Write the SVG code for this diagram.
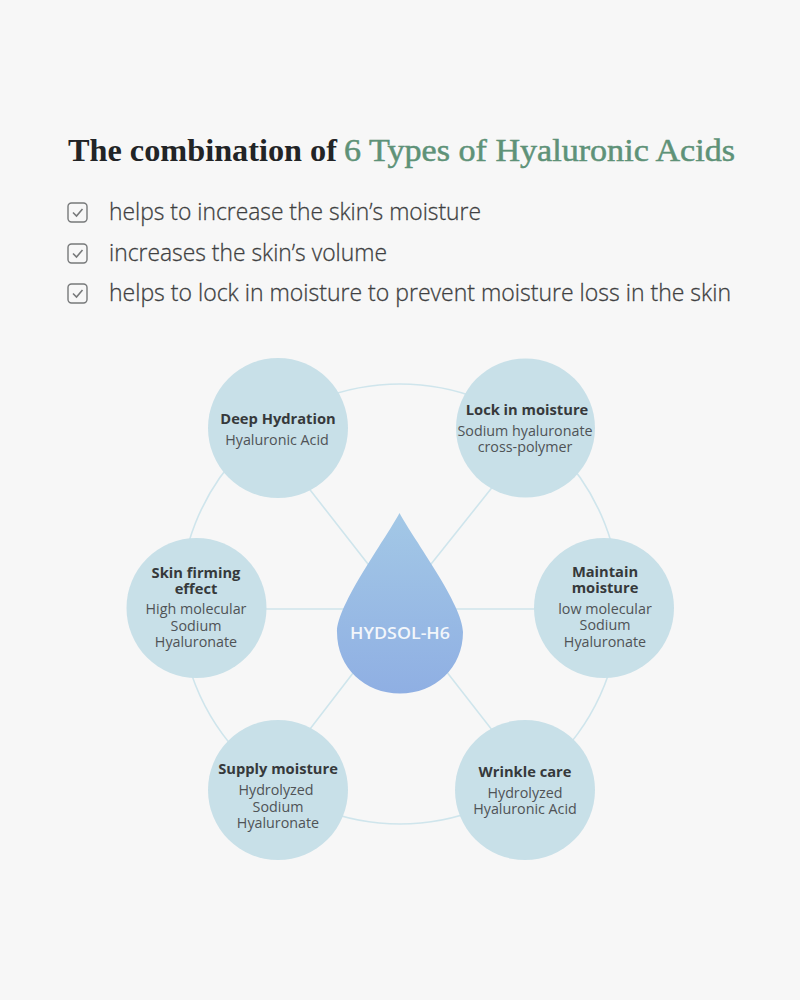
<svg xmlns="http://www.w3.org/2000/svg" width="800" height="1000" viewBox="0 0 800 1000">
<defs>
<linearGradient id="dropFill" x1="0" y1="0" x2="0" y2="1"><stop offset="0" stop-color="#a3c8e6"/><stop offset="1" stop-color="#8fafe3"/></linearGradient>
<g id="check"><rect x="1" y="1" width="19" height="19" rx="3.500" fill="none" stroke="#77797a" stroke-width="1.400"/><path d="M6 10.500l3.500 3.500 6-7" fill="none" stroke="#77797a" stroke-width="1.600"/></g>
</defs>
<style>
.title{font-family:"Liberation Serif",serif;font-size:31px}
.dark{font-weight:700;fill:#222426}
.green{font-weight:400;fill:#5e9278;stroke:#5e9278;stroke-width:.5}
.item{font-family:"Open Sans",sans-serif;font-size:23px;font-weight:300;fill:#3e3f41;stroke:#3e3f41;stroke-width:.3}
.node{fill:#c8e0e8}
.label{font-family:"Open Sans",sans-serif;text-anchor:middle}
.h{font-size:14.700px;font-weight:700;fill:#36393b}
.s{font-size:14.300px;font-weight:400;fill:#4f5356}
.link{fill:none;stroke:#cfe5ec;stroke-width:1.600}
</style>
<rect width="800" height="1000" fill="#f7f7f7"/>
<text class="title dark" x="68" y="161" textLength="269" lengthAdjust="spacingAndGlyphs">The combination of</text>
<text class="title green" x="344" y="161" textLength="391" lengthAdjust="spacingAndGlyphs">6 Types of Hyaluronic Acids</text>
<use href="#check" x="67" y="202"/><use href="#check" x="67" y="243"/><use href="#check" x="67" y="283"/>
<text class="item" x="109" y="220" textLength="372" lengthAdjust="spacingAndGlyphs">helps to increase the skin’s moisture</text>
<text class="item" x="109" y="261" textLength="278" lengthAdjust="spacingAndGlyphs">increases the skin’s volume</text>
<text class="item" x="109" y="301" textLength="622" lengthAdjust="spacingAndGlyphs">helps to lock in moisture to prevent moisture loss in the skin</text>
<g id="connectors">
<circle class="link" cx="400" cy="604" r="220"/>
<path class="link" d="M300 477L400 605M510 465L400 603M196 609H604M300 742L400 612M510 753L400 612"/>
</g>
<g id="node-deep"><circle class="node" cx="278" cy="428" r="70"/><text class="label"><tspan class="h" x="278" y="424">Deep Hydration</tspan><tspan class="s" x="277" y="445">Hyaluronic Acid</tspan></text></g>
<g id="node-lock"><circle class="node" cx="525.500" cy="428" r="69.500"/><text class="label"><tspan class="h" x="527" y="415">Lock in moisture</tspan><tspan class="s" x="525" y="436">Sodium hyaluronate</tspan><tspan class="s" x="525" y="452">cross-polymer</tspan></text></g>
<g id="node-firming"><circle class="node" cx="196.500" cy="608" r="70"/><text class="label"><tspan class="h" x="196" y="578">Skin firming</tspan><tspan class="h" x="196" y="594">effect</tspan><tspan class="s" x="196" y="614">High molecular</tspan><tspan class="s" x="196" y="631">Sodium</tspan><tspan class="s" x="196" y="647">Hyaluronate</tspan></text></g>
<g id="node-maintain"><circle class="node" cx="604" cy="608" r="70"/><text class="label"><tspan class="h" x="605" y="577">Maintain</tspan><tspan class="h" x="605" y="593">moisture</tspan><tspan class="s" x="605" y="614">low molecular</tspan><tspan class="s" x="605" y="630">Sodium</tspan><tspan class="s" x="605" y="647">Hyaluronate</tspan></text></g>
<g id="node-supply"><circle class="node" cx="278" cy="790" r="70"/><text class="label"><tspan class="h" x="278" y="774">Supply moisture</tspan><tspan class="s" x="276" y="795">Hydrolyzed</tspan><tspan class="s" x="278" y="812">Sodium</tspan><tspan class="s" x="278" y="828">Hyaluronate</tspan></text></g>
<g id="node-wrinkle"><circle class="node" cx="525" cy="790" r="70"/><text class="label"><tspan class="h" x="525" y="777">Wrinkle care</tspan><tspan class="s" x="525" y="798">Hydrolyzed</tspan><tspan class="s" x="525" y="814">Hyaluronic Acid</tspan></text></g>
<g id="node-center"><path d="M399.500 513C385 540 337 605 337 632C337 668 365 693.500 400 693.500C435 693.500 463 668 463 632C463 605 414 540 399.500 513Z" fill="url(#dropFill)"/><text x="400" y="639" font-family="Open Sans, sans-serif" font-weight="600" font-size="17" fill="#f2f6fb" text-anchor="middle" textLength="100" lengthAdjust="spacingAndGlyphs">HYDSOL-H6</text></g>
</svg>
